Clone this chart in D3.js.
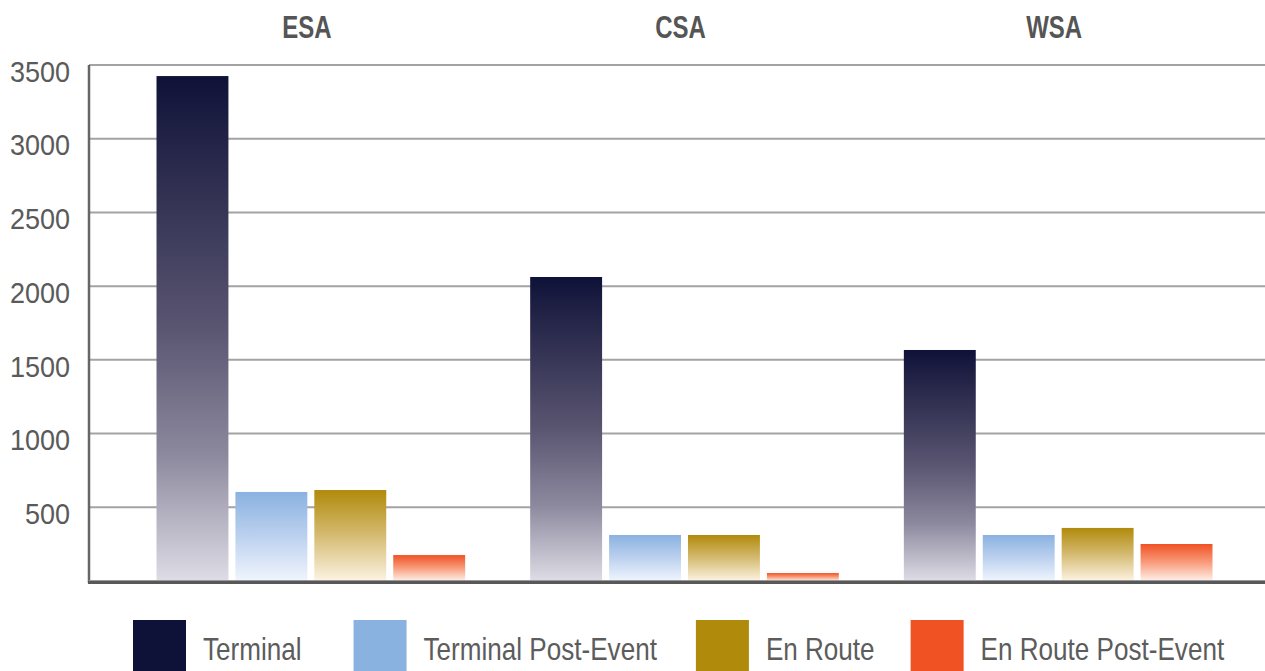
<!DOCTYPE html>
<html>
<head>
<meta charset="utf-8">
<script src="https://cdn.jsdelivr.net/npm/d3@7"></script>
<style>
  html, body { margin: 0; padding: 0; background: #fff; }
  svg { display: block; }
  text { font-family: "Liberation Sans", Arial, sans-serif; }
</style>
</head>
<body>
<svg id="chart" width="1265" height="671"></svg>
<script>
// ---- data ----
const regions = ["ESA", "CSA", "WSA"];
const seriesNames = ["Terminal", "Terminal Post-Event", "En Route", "En Route Post-Event"];
const terminal = [3425, 2062, 1567];
const terminalPost = [604, 312, 312];
const enRoute = [617, 312, 360];
const enRoutePost = [176, 54, 251];
const yTicks = [500, 1000, 1500, 2000, 2500, 3000, 3500];

const seriesValues = [terminal, terminalPost, enRoute, enRoutePost];
const seriesColors = ["#0f1238", "#8ab2e0", "#b08a0a", "#f05224"];
const gradientStops = [
  [["0", "#0f1238"], ["0.5", "#5a5571"], ["0.75", "#8c899e"], ["1", "#dedce5"]],
  [["0", "#8ab2e0"], ["0.5", "#bcd1ef"], ["1", "#f0f5fd"]],
  [["0", "#b08a0a"], ["0.5", "#d5bb72"], ["1", "#fcf3e2"]],
  [["0", "#f05224"], ["0.5", "#f89c7c"], ["1", "#fff1ea"]]
];

const svg = d3.select("#chart");
const W = 1265;
const axisX = 89;
const y = d3.scaleLinear().domain([0, 3500]).range([581, 65]);

const x0 = d3.scaleBand().domain(regions).range([124, 1245]).paddingInner(0.174).paddingOuter(0.087);
const x1 = d3.scaleBand().domain(seriesNames).range([0, x0.bandwidth()]).paddingInner(0.0886).paddingOuter(0);

// gradients
const defs = svg.append("defs");
seriesNames.forEach((s, i) => {
  const g = defs.append("linearGradient").attr("id", "grad" + i)
    .attr("x1", 0).attr("y1", 0).attr("x2", 0).attr("y2", 1);
  gradientStops[i].forEach(st => g.append("stop").attr("offset", st[0]).attr("stop-color", st[1]));
});

// gridlines
svg.append("g").selectAll("line").data(yTicks).join("line")
  .attr("x1", axisX).attr("x2", W)
  .attr("y1", d => y(d)).attr("y2", d => y(d))
  .attr("stroke", "#a3a3a3").attr("stroke-width", 2);

// y axis labels
const yAxis = svg.append("g").attr("transform", `translate(${axisX},0)`)
  .call(d3.axisLeft(y).tickValues(yTicks).tickSize(0).tickPadding(0).tickFormat(d3.format("d")));
yAxis.select(".domain").remove();
yAxis.selectAll("text")
  .attr("x", -19 / 0.9)
  .attr("dy", "0.54em")
  .attr("transform", "scale(0.9,1)")
  .attr("font-size", 30)
  .attr("font-family", '"Liberation Sans", Arial, sans-serif')
  .attr("fill", "#5a5a5a");

// bars
const groups = svg.append("g").selectAll("g").data(regions).join("g")
  .attr("transform", d => `translate(${x0(d)},0)`);
groups.selectAll("rect")
  .data((r, ri) => seriesNames.map((s, si) => ({ s, si, v: seriesValues[si][ri] })))
  .join("rect")
  .attr("x", d => x1(d.s))
  .attr("width", x1.bandwidth())
  .attr("y", d => y(d.v))
  .attr("height", d => y(0) - y(d.v))
  .attr("fill", d => `url(#grad${d.si})`);

// axes lines
svg.append("line").attr("x1", axisX).attr("x2", axisX).attr("y1", y(3500)).attr("y2", y(0) + 2)
  .attr("stroke", "#666").attr("stroke-width", 2.5);
svg.append("line").attr("x1", axisX).attr("x2", W).attr("y1", y(0) - 0.5).attr("y2", y(0) - 0.5)
  .attr("stroke", "#9a9a9a").attr("stroke-width", 1);
svg.append("line").attr("x1", axisX - 1).attr("x2", W).attr("y1", y(0) + 1.5).attr("y2", y(0) + 1.5)
  .attr("stroke", "#585858").attr("stroke-width", 3);

// region titles
svg.append("g").selectAll("text").data(regions).join("text")
  .attr("transform", d => `translate(${x0(d) + x0.bandwidth() / 2 - 4},38) scale(0.75,1)`)
  .attr("text-anchor", "middle")
  .attr("font-size", 32)
  .attr("font-weight", "bold")
  .attr("fill", "#555")
  .text(d => d);

// legend
const legend = svg.append("g");
const items = legend.selectAll("g").data(seriesNames).join("g");
const tScale = 0.815;
items.append("rect").attr("x", 0).attr("y", 620).attr("width", 53).attr("height", 53)
  .attr("fill", (d, i) => seriesColors[i]);
items.append("text")
  .attr("transform", `translate(70,660) scale(${tScale},1)`)
  .attr("font-size", 32)
  .attr("fill", "#5c5c5c")
  .text(d => d);
let widths = [];
items.each(function () { widths.push(70 + d3.select(this).select("text").node().getComputedTextLength() * tScale); });
const gaps = [52, 39, 36];
let cx = 133;
items.each(function (d, i) {
  d3.select(this).attr("transform", `translate(${cx},0)`);
  cx += widths[i] + (gaps[i] || 0);
});
</script>
</body>
</html>
